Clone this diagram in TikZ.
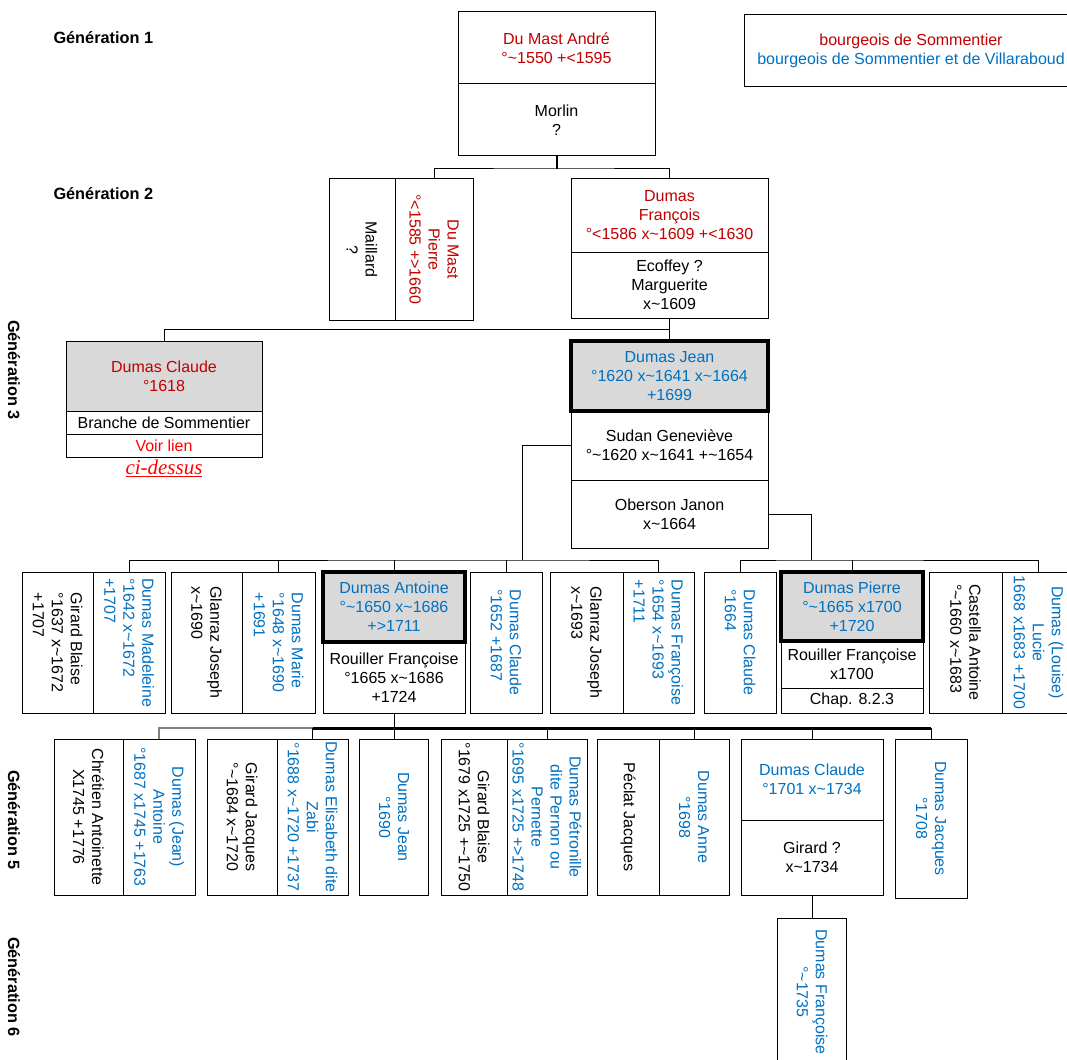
\documentclass[tikz,border=0pt]{standalone}
\usepackage{fontspec}
\setmainfont{Liberation Sans}
\newfontfamily\serifit{Liberation Serif}
\definecolor{gred}{HTML}{C00000}
\definecolor{lred}{HTML}{FF0000}
\definecolor{gblue}{HTML}{0070C0}
\definecolor{gfill}{HTML}{D9D9D9}
\newcommand{\tld}{\textasciitilde}

\begin{document}
\begin{tikzpicture}[x=1pt, y=-1pt, line width=1pt,
    cell/.style={draw, inner sep=0pt, outer sep=0pt, align=center, font=\fontsize{16}{19}\selectfont},
    vcell/.style={cell, rotate=-90},
    hi/.style={fill=gfill, line width=4pt},
    gen/.style={font=\bfseries\fontsize{16.3}{19}\selectfont, inner sep=0pt}]
  \useasboundingbox (0,0) rectangle (1067,1059);

  % generations
  \node[gen, anchor=west] (g1) at (53,38) {Génération 1};
  \node[gen, anchor=west] (g2) at (53,194) {Génération 2};
  \node[gen, rotate=-90] (g3) at (14,370) {Génération 3};
  \node[gen, rotate=-90] (g5) at (14,820) {Génération 5};
  \node[gen, rotate=-90] (g6) at (14,987) {Génération 6};

  % generation 1
  \node[cell, text=gred, minimum width=197, minimum height=72] (andre) at (556.5,48) {Du Mast André\\°\tld1550 +<1595};
  \node[cell, minimum width=197, minimum height=72] (morlin) at (556.5,120) {Morlin\\?};
  \node[cell, minimum width=334, minimum height=72] (legend) at (911,51)
    {\textcolor{gred}{bourgeois de Sommentier}\\\textcolor{gblue}{bourgeois de Sommentier et de Villaraboud}};

  % generation 2
  \node[vcell, minimum width=141, minimum height=66] (maillard) at (362,249.5) {Maillard\\?};
  \node[vcell, text=gred, minimum width=141, minimum height=78] (pierre) at (434,249.5) {Du Mast\\Pierre\\°<1585 +>1660};
  \node[cell, text=gred, minimum width=197, minimum height=73] (francois) at (669.5,215.5) {Dumas\\François\\°<1586 x\tld1609 +<1630};
  \node[cell, minimum width=197, minimum height=66] (ecoffey) at (669.5,285) {Ecoffey ?\\Marguerite\\x\tld1609};

  % generation 3
  \node[cell, fill=gfill, text=gred, minimum width=196, minimum height=70] (claude) at (164,376) {Dumas Claude\\°1618};
  \node[cell, minimum width=196, minimum height=23] (branche) at (164,422.5) {Branche de Sommentier};
  \node[cell, text=lred, minimum width=196, minimum height=23] (voir) at (164,445.5) {Voir lien};
  \node[text=lred, inner sep=0pt, font=\serifit\itshape\fontsize{21}{24}\selectfont] (cidessus) at (164,468) {\underline{ci-dessus}};
  \node[cell, minimum width=197, minimum height=69] (sudan) at (669.5,445.5) {Sudan Geneviève\\°\tld1620 x\tld1641 +\tld1654};
  \node[cell, minimum width=197, minimum height=68] (oberson) at (669.5,514) {Oberson Janon\\x\tld1664};
  \node[cell, hi, text=gblue, minimum width=197, minimum height=70] (jean) at (669.5,376) {Dumas Jean\\°1620 x\tld1641 x\tld1664\\+1699};

  % generation 4
  \node[vcell, align=left, minimum width=141, minimum height=71] (girardB) at (57.5,642.5) {Girard Blaise\\°1637 x\tld1672\\+1707};
  \node[vcell, align=left, text=gblue, minimum width=141, minimum height=72] (madeleine) at (129,642.5) {Dumas Madeleine\\°1642 x\tld1672\\+1707};
  \node[vcell, align=left, minimum width=141, minimum height=71] (glanrazA) at (206.5,642.5) {Glanraz Joseph\\x\tld1690};
  \node[vcell, align=left, text=gblue, minimum width=141, minimum height=73] (marie) at (278.5,642.5) {Dumas Marie\\°1648 x\tld1690\\+1691};
  \node[cell, minimum width=142, minimum height=71] (rouillerA) at (394,677.5) {Rouiller Françoise\\°1665 x\tld1686\\+1724};
  \node[cell, hi, text=gblue, minimum width=142, minimum height=70] (antoine) at (394,607) {Dumas Antoine\\°\tld1650 x\tld1686\\+>1711};
  \node[vcell, align=left, text=gblue, minimum width=141, minimum height=72] (claudeB) at (506,642.5) {Dumas Claude\\°1652 +1687};
  \node[vcell, align=left, minimum width=141, minimum height=73] (glanrazB) at (586.5,642.5) {Glanraz Joseph\\x\tld1693};
  \node[vcell, align=left, text=gblue, minimum width=141, minimum height=71] (francoise) at (658.5,642.5) {Dumas Françoise\\°1654 x\tld1693\\+1711};
  \node[vcell, align=left, text=gblue, minimum width=141, minimum height=72] (claudeC) at (740,642.5) {Dumas Claude\\°1664};
  \node[cell, minimum width=142, minimum height=47] (rouillerB) at (852,664.5) {Rouiller Françoise\\x1700};
  \node[cell, minimum width=142, minimum height=25] (chap) at (852,700.5) {Chap. 8.2.3};
  \node[cell, hi, text=gblue, minimum width=142, minimum height=69] (pierreB) at (852,606.5) {Dumas Pierre\\°\tld1665 x1700\\+1720};
  \node[vcell, align=left, minimum width=141, minimum height=73] (castella) at (965.5,642.5) {Castella Antoine\\°\tld1660 x\tld1683};
  \node[vcell, text=gblue, minimum width=141, minimum height=73] (lucie) at (1038.5,642.5) {Dumas (Louise)\\Lucie\\1668 x1683 +1700};

  % generation 5
  \node[vcell, minimum width=156, minimum height=69] (chretien) at (88.5,817) {Chrétien Antoinette\\X1745 +1776};
  \node[vcell, text=gblue, minimum width=156, minimum height=72] (antoineJ) at (159,817) {Dumas (Jean)\\Antoine\\°1687 x1745 +1763};
  \node[vcell, minimum width=156, minimum height=70] (girardJ) at (242,817) {Girard Jacques\\°\tld1684 x\tld1720};
  \node[vcell, text=gblue, minimum width=156, minimum height=71] (elisabeth) at (312.5,817) {Dumas Elisabeth dite\\Zabi\\°1688 x\tld1720 +1737};
  \node[vcell, text=gblue, minimum width=156, minimum height=69] (jeanC) at (394,817) {Dumas Jean\\°1690};
  \node[vcell, minimum width=156, minimum height=66] (girardBl) at (474,817) {Girard Blaise\\°1679 x1725 +\tld1750};
  \node[vcell, text=gblue, minimum width=156, minimum height=80] (petronille) at (547,817) {Dumas Pétronille\\dite Pernon ou\\Pernette\\°1695 x1725 +>1748};
  \node[vcell, minimum width=156, minimum height=62] (peclat) at (628,817) {Péclat Jacques};
  \node[vcell, text=gblue, minimum width=156, minimum height=70] (anne) at (694,817) {Dumas Anne\\°1698};
  \node[cell, text=gblue, minimum width=142, minimum height=81] (claudeD) at (812,779.5) {Dumas Claude\\°1701 x\tld1734};
  \node[cell, minimum width=142, minimum height=75] (girardQ) at (812,857.5) {Girard ?\\x\tld1734};
  \node[vcell, text=gblue, minimum width=159, minimum height=72] (jacques) at (931,818.5) {Dumas Jacques\\°1708};

  % generation 6
  \node[vcell, text=gblue, minimum width=148, minimum height=69] (francoise6) at (812,992) {Dumas Françoise\\°\tld1735};

  % links
  \draw[line width=2pt] (morlin.south) -- ++(0,13) coordinate (g2bus);
  \draw (pierre.west) |- (g2bus) -| (francois.north);
  \draw (ecoffey.south) -- ++(0,11) coordinate (g3bus) -- (jean.north);
  \draw (claude.north) |- (g3bus);

  \draw (sudan.west) -- ++(-49,0) -- ++(0,114.5) coordinate (g4busA);
  \draw (madeleine.west) |- (g4busA) -| (francoise.west);
  \draw (marie.west) -- (marie.west |- g4busA);
  \draw (antoine.north) -- (antoine.north |- g4busA);
  \draw (claudeB.west) -- (claudeB.west |- g4busA);

  \draw (oberson.east) -- ++(43,0) -- ++(0,46) coordinate (g4busB);
  \draw (claudeC.west) |- (g4busB) -| (lucie.west);
  \draw (pierreB.north) -- (pierreB.north |- g4busB);

  \path (rouillerA.south) ++(0,15) coordinate (g5bus);
  \draw (rouillerA.south) -- (jeanC.west);
  \draw[line width=2pt, gray] (antoineJ.west) |- (elisabeth.west |- g5bus);
  \draw[line width=3pt] (elisabeth.west |- g5bus) -- (jacques.west |- g5bus);
  \draw (elisabeth.west) -- (elisabeth.west |- g5bus);
  \draw (petronille.west) -- (petronille.west |- g5bus);
  \draw (anne.west) -- (anne.west |- g5bus);
  \draw (claudeD.north) -- (claudeD.north |- g5bus);
  \draw (jacques.west) -- (jacques.west |- g5bus);

  \draw (girardQ.south) -- (francoise6.west);
\end{tikzpicture}
\end{document}
